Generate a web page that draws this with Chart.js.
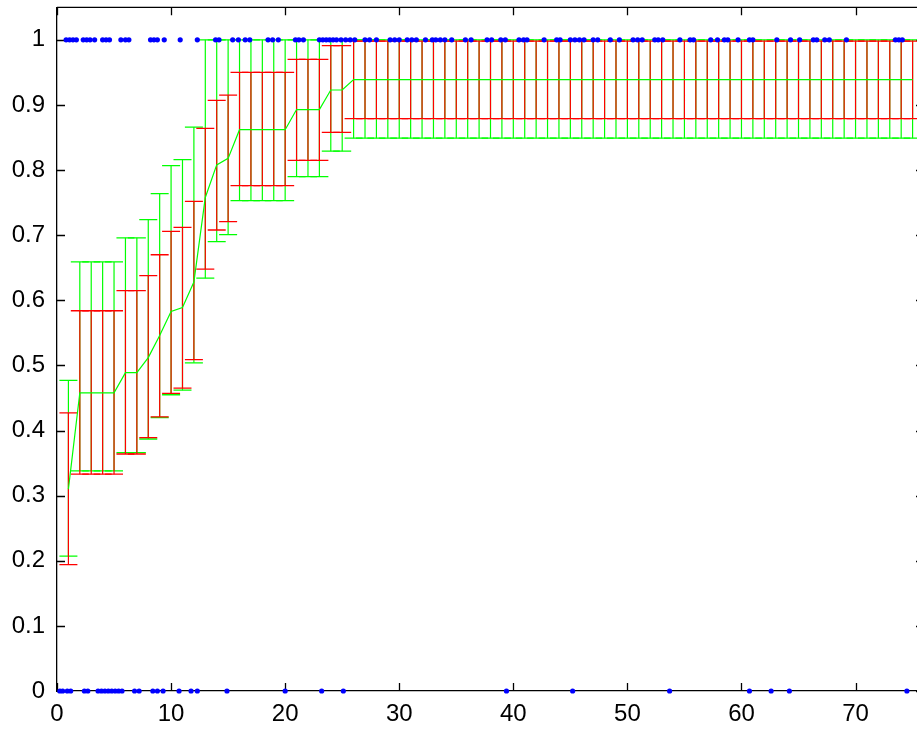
<!DOCTYPE html>
<html>
<head>
<meta charset="utf-8">
<script src="https://cdn.jsdelivr.net/npm/chart.js@4.4.0/dist/chart.umd.min.js"></script>
<style>
  html, body { margin: 0; padding: 0; overflow: hidden; background: #fff; }
  canvas { display: block; margin-top: -3px; }
</style>
</head>
<body>
<canvas id="chart" width="940" height="733"></canvas>
<script>
// x positions of the error bars
const xs = [
  1, 2, 3, 4, 5, 6, 7, 8, 9, 10,
  11, 12, 13, 14, 15, 16, 17, 18, 19, 20,
  21, 22, 23, 24, 25, 26, 27, 28, 29, 30,
  31, 32, 33, 34, 35, 36, 37, 38, 39, 40,
  41, 42, 43, 44, 45, 46, 47, 48, 49, 50,
  51, 52, 53, 54, 55, 56, 57, 58, 59, 60,
  61, 62, 63, 64, 65, 66, 67, 68, 69, 70,
  71, 72, 73, 74, 75
];

// mean curve
const meanVals = [
  0.31, 0.458, 0.458, 0.458, 0.458, 0.489, 0.489, 0.512, 0.546, 0.583,
  0.589, 0.628, 0.758, 0.808, 0.818, 0.862, 0.862, 0.862, 0.862, 0.862,
  0.893, 0.893, 0.893, 0.923, 0.923, 0.939, 0.939, 0.939, 0.939, 0.939,
  0.939, 0.939, 0.939, 0.939, 0.939, 0.939, 0.939, 0.939, 0.939, 0.939,
  0.939, 0.939, 0.939, 0.939, 0.939, 0.939, 0.939, 0.939, 0.939, 0.939,
  0.939, 0.939, 0.939, 0.939, 0.939, 0.939, 0.939, 0.939, 0.939, 0.939,
  0.939, 0.939, 0.939, 0.939, 0.939, 0.939, 0.939, 0.939, 0.939, 0.939,
  0.939, 0.939, 0.939, 0.939, 0.939
];

// green error bars
const greenHi = [
  0.477, 0.659, 0.659, 0.659, 0.659, 0.696, 0.696, 0.724, 0.764, 0.807,
  0.816, 0.866, 1, 1, 1, 1, 1, 1, 1, 1,
  1, 1, 1, 1, 1, 1, 1, 1, 1, 1,
  1, 1, 1, 1, 1, 1, 1, 1, 1, 1,
  1, 1, 1, 1, 1, 1, 1, 1, 1, 1,
  1, 1, 1, 1, 1, 1, 1, 1, 1, 1,
  1, 1, 1, 1, 1, 1, 1, 1, 1, 1,
  1, 1, 1, 1, 1
];
const greenLo = [
  0.207, 0.338, 0.338, 0.338, 0.338, 0.366, 0.366, 0.387, 0.420, 0.455,
  0.462, 0.504, 0.634, 0.690, 0.701, 0.753, 0.753, 0.753, 0.753, 0.753,
  0.790, 0.790, 0.790, 0.829, 0.829, 0.849, 0.849, 0.849, 0.849, 0.849,
  0.849, 0.849, 0.849, 0.849, 0.849, 0.849, 0.849, 0.849, 0.849, 0.849,
  0.849, 0.849, 0.849, 0.849, 0.849, 0.849, 0.849, 0.849, 0.849, 0.849,
  0.849, 0.849, 0.849, 0.849, 0.849, 0.849, 0.849, 0.849, 0.849, 0.849,
  0.849, 0.849, 0.849, 0.849, 0.849, 0.849, 0.849, 0.849, 0.849, 0.849,
  0.849, 0.849, 0.849, 0.849, 0.849
];

// red error bars
const redHi = [
  0.427, 0.584, 0.584, 0.584, 0.584, 0.615, 0.615, 0.638, 0.670, 0.706,
  0.712, 0.752, 0.864, 0.907, 0.915, 0.950, 0.950, 0.950, 0.950, 0.950,
  0.970, 0.970, 0.970, 0.991, 0.991, 0.998, 0.998, 0.998, 0.998, 0.998,
  0.998, 0.998, 0.998, 0.998, 0.998, 0.998, 0.998, 0.998, 0.998, 0.998,
  0.998, 0.998, 0.998, 0.998, 0.998, 0.998, 0.998, 0.998, 0.998, 0.998,
  0.998, 0.998, 0.998, 0.998, 0.998, 0.998, 0.998, 0.998, 0.998, 0.998,
  0.998, 0.998, 0.998, 0.998, 0.998, 0.998, 0.998, 0.998, 0.998, 0.998,
  0.998, 0.998, 0.998, 0.998, 0.998
];
const redLo = [
  0.194, 0.333, 0.333, 0.333, 0.333, 0.364, 0.364, 0.389, 0.421, 0.457,
  0.465, 0.509, 0.648, 0.708, 0.721, 0.776, 0.776, 0.776, 0.776, 0.776,
  0.815, 0.815, 0.815, 0.858, 0.858, 0.879, 0.879, 0.879, 0.879, 0.879,
  0.879, 0.879, 0.879, 0.879, 0.879, 0.879, 0.879, 0.879, 0.879, 0.879,
  0.879, 0.879, 0.879, 0.879, 0.879, 0.879, 0.879, 0.879, 0.879, 0.879,
  0.879, 0.879, 0.879, 0.879, 0.879, 0.879, 0.879, 0.879, 0.879, 0.879,
  0.879, 0.879, 0.879, 0.879, 0.879, 0.879, 0.879, 0.879, 0.879, 0.879,
  0.879, 0.879, 0.879, 0.879, 0.879
];

// raw samples: x positions of points at 1 and at 0
const onesX = [
  0.8, 1.1, 1.4, 1.7, 2.3, 2.6, 2.9, 3.3, 4.0, 4.3, 4.6, 5.6, 6.0, 6.3,
  8.2, 8.5, 8.8, 9.4, 10.8, 12.3, 13.9, 14.2, 15.4, 15.9, 16.5, 16.9,
  18.5, 18.9, 19.4, 20.9, 21.2, 21.6, 23.0, 23.3, 23.6, 23.9, 24.2, 24.5,
  24.9, 25.3, 25.7, 26.1, 27.0, 27.4, 28.0, 29.2, 29.6, 30.0, 30.7, 31.1,
  31.5, 32.3, 32.9, 33.2, 33.6, 34.0, 34.6, 35.8, 36.3, 37.7, 38.1, 38.9,
  39.3, 40.5, 40.9, 41.2, 42.7, 43.8, 44.1, 45.0, 45.4, 45.8, 46.2, 47.0,
  47.4, 48.5, 49.3, 50.5, 50.9, 51.3, 52.4, 52.7, 53.1, 54.6, 55.5, 55.8,
  57.3, 57.9, 58.5, 58.8, 59.7, 60.7, 61.0, 63.1, 64.3, 65.1, 66.3, 66.6,
  67.3, 67.7, 69.2, 73.5, 73.8, 74.1
];
const zerosX = [
  0.25, 0.5, 0.9, 1.2, 2.4, 2.7, 3.6, 3.9, 4.2, 4.5, 4.8, 5.1, 5.4, 5.7,
  6.8, 7.2, 8.4, 8.8, 9.3, 10.7, 11.75, 12.3, 14.9, 20.0, 23.2, 25.1,
  39.4, 45.2, 53.7, 60.7, 62.6, 64.2, 74.5
];

const xTicks = [0, 10, 20, 30, 40, 50, 60, 70];
const yTicks = [0, 0.1, 0.2, 0.3, 0.4, 0.5, 0.6, 0.7, 0.8, 0.9, 1];

const GREEN = '#00ff00';
const RED = '#ff0000';
const BLUE = '#0000ff';

function barSegments(lo, hi) {
  const out = [];
  xs.forEach((x, i) => {
    out.push({x: x, y: lo[i]}, {x: x, y: hi[i]}, {x: x, y: null});
  });
  return out;
}
function barCaps(lo, hi) {
  const out = [];
  xs.forEach((x, i) => {
    out.push({x: x, y: lo[i]}, {x: x, y: hi[i]});
  });
  return out;
}

// matlab style box with inward ticks
const boxTicks = {
  id: 'boxTicks',
  beforeDatasetsDraw(chart) {
    const {ctx, chartArea: a, scales} = chart;
    const len = 8;
    ctx.save();
    ctx.strokeStyle = '#000';
    ctx.lineWidth = 1.3;
    ctx.beginPath();
    ctx.moveTo(a.left, a.top);
    ctx.lineTo(a.right, a.top);
    ctx.lineTo(a.right, a.bottom);
    scales.x.ticks.forEach(t => {
      const px = Math.round(scales.x.getPixelForValue(t.value)) + 0.5;
      ctx.moveTo(px, a.bottom);
      ctx.lineTo(px, a.bottom - len);
      ctx.moveTo(px, a.top);
      ctx.lineTo(px, a.top + len);
    });
    scales.y.ticks.forEach(t => {
      const py = Math.round(scales.y.getPixelForValue(t.value)) + 0.5;
      ctx.moveTo(a.left, py);
      ctx.lineTo(a.left + len, py);
      ctx.moveTo(a.right, py);
      ctx.lineTo(a.right - len, py);
    });
    ctx.stroke();
    ctx.restore();
  }
};

Chart.defaults.font.family = '"Liberation Sans", Arial, sans-serif';
Chart.defaults.font.size = 24;
Chart.defaults.color = '#000';

new Chart(document.getElementById('chart').getContext('2d'), {
  type: 'scatter',
  data: {
    datasets: [
      {
        label: 'ones',
        data: onesX.map(x => ({x: x, y: 1})),
        pointRadius: 2.6,
        pointBackgroundColor: BLUE,
        pointBorderWidth: 0,
        clip: false
      },
      {
        label: 'zeros',
        data: zerosX.map(x => ({x: x, y: 0})),
        pointRadius: 2.6,
        pointBackgroundColor: BLUE,
        pointBorderWidth: 0,
        clip: false
      },
      {
        label: 'mean',
        data: xs.map((x, i) => ({x: x, y: meanVals[i]})),
        showLine: true,
        borderColor: GREEN,
        borderWidth: 1.2,
        pointRadius: 0
      },
      {
        label: 'red caps',
        data: barCaps(redLo, redHi),
        pointStyle: 'line',
        pointRadius: 9,
        pointBorderColor: RED,
        pointBorderWidth: 1.3
      },
      {
        label: 'red bars',
        data: barSegments(redLo, redHi),
        showLine: true,
        spanGaps: false,
        borderColor: RED,
        borderWidth: 1.2,
        pointRadius: 0
      },
      {
        label: 'green caps',
        data: barCaps(greenLo, greenHi),
        pointStyle: 'line',
        pointRadius: 9,
        pointBorderColor: GREEN,
        pointBorderWidth: 1.3
      },
      {
        label: 'green bars',
        data: barSegments(greenLo, greenHi),
        showLine: true,
        spanGaps: false,
        borderColor: GREEN,
        borderWidth: 1.2,
        pointRadius: 0
      }
    ]
  },
  options: {
    responsive: false,
    animation: false,
    devicePixelRatio: 1,
    layout: { padding: { top: 4, right: 16, left: 0, bottom: 0 } },
    plugins: {
      legend: { display: false },
      tooltip: { enabled: false }
    },
    scales: {
      x: {
        type: 'linear',
        min: 0,
        max: 76,
        afterFit: s => {
          s.height = 39;
          s.paddingLeft = 0;
          s.paddingRight = 0;
        },
        afterBuildTicks: s => { s.ticks = xTicks.map(v => ({value: v})); },
        grid: { display: false, drawTicks: false },
        border: { display: true, color: '#000', width: 1.3 },
        ticks: { padding: 9, maxRotation: 0 }
      },
      y: {
        type: 'linear',
        min: 0,
        max: 1.05,
        afterFit: s => {
          s.width = 57;
          s.paddingTop = 0;
          s.paddingBottom = 0;
        },
        afterBuildTicks: s => { s.ticks = yTicks.map(v => ({value: v})); },
        grid: { display: false, drawTicks: false },
        border: { display: true, color: '#000', width: 1.3 },
        ticks: { padding: 12, callback: v => String(v) }
      }
    }
  },
  plugins: [boxTicks]
});
</script>
</body>
</html>
